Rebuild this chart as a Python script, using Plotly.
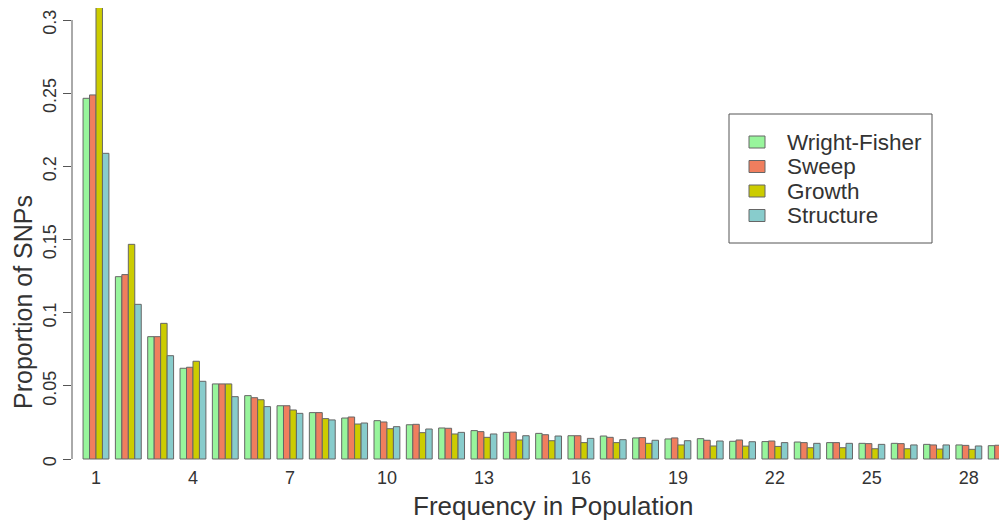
import plotly.graph_objects as go

frequency = list(range(1, 30))

wright_fisher = [0.2465, 0.1246, 0.0836, 0.0620, 0.0513, 0.0433, 0.0364, 0.0317, 0.0280, 0.0262,
                 0.0234, 0.0212, 0.0194, 0.0182, 0.0175, 0.0159, 0.0157, 0.0144, 0.0137, 0.0139,
                 0.0121, 0.0119, 0.0116, 0.0112, 0.0107, 0.0107, 0.0100, 0.0096, 0.0091]
sweep = [0.2488, 0.1260, 0.0836, 0.0627, 0.0513, 0.0419, 0.0364, 0.0317, 0.0287, 0.0253,
         0.0237, 0.0210, 0.0187, 0.0184, 0.0166, 0.0159, 0.0148, 0.0146, 0.0144, 0.0128,
         0.0130, 0.0123, 0.0112, 0.0112, 0.0105, 0.0105, 0.0096, 0.0093, 0.0094]
growth = [0.3087, 0.1467, 0.0927, 0.0668, 0.0513, 0.0405, 0.0335, 0.0276, 0.0239, 0.0207,
          0.0180, 0.0171, 0.0148, 0.0130, 0.0125, 0.0112, 0.0112, 0.0107, 0.0096, 0.0089,
          0.0088, 0.0086, 0.0077, 0.0077, 0.0070, 0.0070, 0.0068, 0.0066, 0.0064]
structure = [0.2089, 0.1057, 0.0706, 0.0531, 0.0426, 0.0358, 0.0312, 0.0267, 0.0246, 0.0221,
             0.0205, 0.0182, 0.0171, 0.0159, 0.0157, 0.0141, 0.0132, 0.0128, 0.0125, 0.0123,
             0.0118, 0.0112, 0.0107, 0.0107, 0.0100, 0.0096, 0.0096, 0.0089, 0.0087]

series_names = ["Wright-Fisher", "Sweep", "Growth", "Structure"]
series_values = [wright_fisher, sweep, growth, structure]
series_colors = ["#98F59C", "#F07E5E", "#CCCC00", "#88CCCC"]

x_tickvals = [1, 4, 7, 10, 13, 16, 19, 22, 25, 28]
y_tickvals = [0, 0.05, 0.1, 0.15, 0.2, 0.25, 0.3]
y_ticktext = ["0", "0.05", "0.1", "0.15", "0.2", "0.25", "0.3"]

FONT = "Liberation Sans, Arial, sans-serif"
TXT = "#333333"
EDGE = "#666666"

fig = go.Figure()
for name, vals, col in zip(series_names, series_values, series_colors):
    fig.add_trace(go.Bar(x=frequency, y=vals, name=name, cliponaxis=False,
                         marker=dict(color=col, line=dict(color=EDGE, width=1))))

# The page body has an 8px margin, so the figure sits at (8, 8) in the window.
OFF = 8
W, H = 1007 - OFF, 525 - OFF
SCR_LEFT, SCR_BOTTOM = 72, 466          # plot area edges in window pixels
ML = SCR_LEFT - OFF
MB = H - (SCR_BOTTOM - OFF)
MT, MR = 0, 0
plot_w = W - ML - MR
plot_h = H - MB - MT
y0_px = 459 - OFF                       # zero line, figure pixels
scale = 1463.3                          # pixels per unit of proportion
y_top = y0_px / scale
y_bot = -(plot_h - y0_px) / scale


def px_x(p):
    return (p - OFF - ML) / plot_w


def px_y(p):
    return (plot_h - (p - OFF)) / plot_h


fig.update_layout(
    width=W, height=H,
    margin=dict(l=ML, r=MR, t=MT, b=MB, pad=0, autoexpand=False),
    plot_bgcolor="white", paper_bgcolor="white",
    barmode="group", bargap=0.2, bargroupgap=0,
    font=dict(family=FONT, color=TXT),
    showlegend=False,
    xaxis=dict(range=[0.258, 29.18], tickvals=x_tickvals, showline=False, showgrid=False,
               zeroline=False, ticks="", tickfont=dict(size=18, color=TXT),
               ticklabelstandoff=-1, automargin=False),
    yaxis=dict(range=[y_bot, y_top], tickvals=y_tickvals, ticktext=y_ticktext,
               showline=False, showgrid=False, zeroline=False, ticks="outside",
               ticklen=8, tickcolor="#555555", tickwidth=1, tickangle=-90,
               tickfont=dict(size=18, color=TXT), ticklabelstandoff=0, ticklabelshift=5,
               ticklabeloverflow="allow", automargin=False),
)

fig.add_shape(type="line", xref="paper", yref="y", x0=0, x1=0, y0=0, y1=0.3,
              line=dict(color="#555555", width=1))

# legend box (drawn manually to match the row spacing of the original)
fig.add_shape(type="rect", xref="paper", yref="paper",
              x0=px_x(729), x1=px_x(932), y0=px_y(114), y1=px_y(243),
              line=dict(color="#555555", width=1), fillcolor="white")
row_y = [142, 166.5, 191, 215.5]
for name, col, ry in zip(series_names, series_colors, row_y):
    fig.add_shape(type="rect", xref="paper", yref="paper",
                  x0=px_x(749), x1=px_x(765), y0=px_y(ry - 6), y1=px_y(ry + 6),
                  line=dict(color=EDGE, width=1), fillcolor=col)
    fig.add_annotation(text=name, xref="paper", yref="paper", x=px_x(785), y=px_y(ry),
                       showarrow=False, xanchor="left", yanchor="middle",
                       font=dict(size=22.5, color=TXT))

fig.add_annotation(text="Proportion of SNPs", xref="paper", yref="paper",
                   x=px_x(23), y=px_y(302), textangle=-90,
                   showarrow=False, xanchor="center", yanchor="middle",
                   font=dict(size=25, color=TXT))
fig.add_annotation(text="Frequency in Population", xref="paper", yref="paper",
                   x=px_x(553), y=px_y(506),
                   showarrow=False, xanchor="center", yanchor="middle",
                   font=dict(size=26, color=TXT))

fig.write_html("out.html")
